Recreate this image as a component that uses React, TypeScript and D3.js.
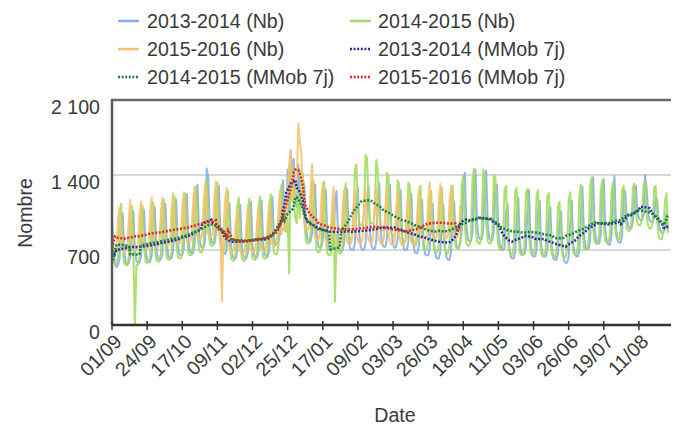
import React from "react";
import * as d3 from "d3";

// Tick labels on the date axis (every 23 days from 01/09)
const tickLabels = ["01/09","24/09","17/10","09/11","02/12","25/12","17/01","09/02","03/03","26/03","18/04","11/05","03/06","26/06","19/07","11/08"];
const tickDays = [0,23,46,69,92,115,138,161,184,207,230,253,276,299,322,345];
const yTicks = [0, 700, 1400, 2100];
const yTickLabels = ["0", "700", "1 400", "2 100"];

// Daily counts, index 0 = 01/09
const nb2013 = [
1000,700,560,540,560,620,920, 1040,700,580,560,580,640,950, 1060,690,600,580,580,640,950, 1070,700,610,590,590,650,960,
1100,720,620,610,610,670,990, 1130,740,640,620,620,690,1010, 1170,770,660,650,650,710,1050, 1220,800,690,670,670,740,1090,
1310,860,740,720,720,790,1460, 1380,900,780,760,760,840,1240, 1300,850,700,680,660,700,1000, 1130,740,640,620,620,690,1010,
1120,740,650,620,620,680,1020, 1150,750,650,630,630,700,1030, 1160,760,660,640,640,700,1040, 1200,820,740,760,780,850,1200,
1350,950,1000,1450,1050,1630,1400, 1550,1150,1100,1500,1150,1100,1350, 1300,900,800,780,780,850,1200, 1310,860,740,720,720,790,1170,
1260,830,710,700,700,770,1130, 1250,830,700,690,700,770,1140, 1270,830,710,700,700,760,1120, 1280,840,720,700,700,770,1140,
1290,850,730,710,710,780,1160, 1320,860,750,730,730,800,1180, 1310,870,750,720,730,800,1190, 1260,830,710,700,700,770,1130,
1220,800,690,670,670,740,1090, 1170,770,660,650,650,710,1050, 1130,740,640,620,620,690,1010, 1120,730,630,610,610,680,1000,
1150,800,720,720,760,880,1300, 1420,930,800,780,780,860,1270, 1450,950,820,800,800,880,1300, 1440,940,810,790,790,870,1290,
1310,860,740,720,700,720,1050, 1130,740,640,620,620,690,1010, 1190,780,670,660,660,720,1070, 1260,780,650,640,640,700,1060,
1160,760,660,640,640,700,1040, 1100,720,620,610,610,670,990, 1060,690,600,580,580,640,950, 1160,760,660,640,640,700,1040,
1290,850,730,710,710,780,1160, 1380,900,780,760,760,840,1240, 1360,890,770,750,750,830,1220, 1390,910,790,770,770,840,1250,
1250,1000,920,900,900,960,1200, 1300,1050,1000,980,980,1020,1400, 1280,1050,980,960,960,1000,1200, 1150,950,880,860,860,900,1050,
880
];

const nb2014 = [
710,590,570,570,640,1050,1130, 700,580,560,560,630,1040,1110, 700,0,560,560,630,1040,1110, 720,590,580,580,650,1060,1140,
740,610,590,590,660,1090,1170, 760,620,610,610,680,1120,1200, 780,640,620,620,700,1150,1230, 820,670,650,650,730,1200,1290,
860,700,680,680,770,1260,1350, 900,760,740,740,820,1250,1330, 880,740,720,700,740,1100,1250, 750,620,600,600,670,1110,1190,
750,620,600,600,670,1100,1180, 760,620,610,610,680,1120,1200, 770,630,620,620,690,1130,1220, 830,680,660,660,740,1220,1310,
1050,900,870,1000,480,1450,1500, 1150,1000,950,1290,1000,1450,1400, 950,780,760,760,850,1300,1350, 850,690,680,680,760,1250,1340,
820,670,650,650,730,1200,220, 840,690,670,670,750,1230,1320, 950,800,800,820,920,1450,1500, 1100,950,930,930,1050,1590,1560,
1100,950,950,950,1050,1540,1450, 1050,900,880,880,980,1420,1380, 1000,850,830,830,920,1350,1320, 950,800,780,780,870,1330,1300,
900,760,740,740,820,1250,1300, 860,720,700,700,780,1200,1250, 840,700,680,680,760,1200,1280, 850,690,670,670,750,1230,1300,
880,730,710,710,790,1300,1400, 920,760,740,740,820,1360,1460, 950,780,760,760,850,1450,1400, 950,780,760,760,850,1400,1380,
900,740,700,700,780,1260,1300, 850,690,660,650,740,1250,1280, 840,680,650,650,730,1230,1270, 840,680,660,660,740,1220,1260,
820,670,640,640,720,1200,1230, 800,660,630,630,710,1100,1150, 790,650,630,630,710,1160,1240, 830,680,660,660,740,1220,1310,
870,720,700,700,780,1290,1380, 900,780,760,760,840,1250,1350, 900,790,770,770,840,1230,1330, 950,830,800,800,880,1260,1300,
1000,900,880,880,950,1280,1320, 1050,950,930,930,1000,1300,1330, 1030,930,900,900,980,1280,1300, 950,820,800,800,880,1150,1230,
860
];

const nb2015 = [
730,700,690,740,1000,1100,760, 700,680,690,720,980,1170,750, 720,700,690,750,1010,1150,770, 740,720,700,760,1050,1190,790,
760,730,720,780,1060,1190,800, 770,750,740,790,1080,1230,820, 790,760,760,800,1100,1240,840, 800,780,770,820,1120,1290,860,
830,800,800,850,1150,1320,890, 850,820,830,870,1180,1340,900, 880,850,220,880,1150,1280,820, 700,680,680,710,950,1090,730,
690,670,670,700,940,1080,720, 700,680,680,720,960,1100,740, 710,690,690,730,980,1130,760, 760,740,750,800,1080,1250,850,
900,880,900,1250,1500,1620,1150, 1200,1250,1350,1880,1700,1600,1150, 950,900,880,920,1250,1500,950, 820,790,790,840,1150,1330,880,
790,760,760,800,1100,1290,850, 780,750,750,790,1080,1260,840, 780,750,750,790,1080,1250,840, 790,760,760,800,1100,1270,850,
800,770,770,820,1110,1290,860, 790,760,760,810,1100,1270,850, 780,750,750,790,1070,1240,840, 770,740,740,780,1050,1220,830,
780,750,750,790,1080,1260,840, 820,790,790,840,1150,1330,870, 840,810,810,860,1150,1320,890, 840,810,810,850,1140,1300,880,
840,810,820,860,1120
];

const legendLabels = ["2013-2014 (Nb)", "2014-2015 (Nb)", "2015-2016 (Nb)", "2013-2014 (MMob 7j)", "2014-2015 (MMob 7j)", "2015-2016 (MMob 7j)"];
const seriesColors = ["#86aee6", "#a4dc5c", "#f8c26c", "#2c2c9c", "#1f7f3c", "#e0281e"];

// 7-day centred moving average (MMob 7j)
function movingAverage(values: number[]): number[] {
  return values.map((_, i) => {
    const w = values.slice(Math.max(0, i - 3), Math.min(values.length, i + 4));
    return d3.mean(w) as number;
  });
}

export default function App() {
  const W = 680, H = 428;
  const left = 112, right = 671, top = 100, bottom = 325;
  const x = d3.scaleLinear().domain([0, 366]).range([left, right]);
  const y = d3.scaleLinear().domain([0, 2100]).range([bottom, top]);
  const line = d3.line<number>().x((_, i) => x(i)).y((v) => y(v));

  const raw = [nb2013, nb2014, nb2015];
  const ma = raw.map(movingAverage);
  const font = "'Liberation Sans', Arial, sans-serif";
  const textColor = "#3a3a3a";
  const fs = 19.6;

  const legendPos = [
    [118, 21], [350, 21],
    [118, 49], [350, 49],
    [118, 77], [350, 77],
  ];

  return (
    <svg width={W} height={H} style={{ position: "absolute", left: 0, top: 0, background: "#fff" }} fontFamily={font}>
      {/* grid lines */}
      {yTicks.filter((t) => t > 0 && t < 2100).map((t) => (
        <line key={t} x1={left} x2={right} y1={y(t)} y2={y(t)} stroke="#c8ccd2" strokeWidth={1.5} />
      ))}
      {/* raw series */}
      {raw.map((s, k) => (
        <path key={"r" + k} d={line(s) || ""} fill="none" stroke={seriesColors[k]} strokeWidth={2} strokeOpacity={0.9} strokeLinejoin="round" />
      ))}
      {/* moving averages */}
      {ma.map((s, k) => (
        <path key={"m" + k} d={line(s) || ""} fill="none" stroke={seriesColors[3 + k]} strokeWidth={2.5} strokeDasharray="2 1.6" />
      ))}
      {/* frame */}
      <line x1={left} x2={right} y1={top} y2={top} stroke="#6a6a6a" strokeWidth={2.5} />
      <line x1={left} x2={left} y1={top - 1} y2={bottom} stroke="#5a5a5a" strokeWidth={2.5} />
      <line x1={left} x2={right} y1={bottom} y2={bottom} stroke="#333" strokeWidth={2.5} />
      {tickDays.map((d) => (
        <line key={"t" + d} x1={x(d)} x2={x(d)} y1={bottom - 4} y2={bottom + 5} stroke="#333" strokeWidth={1.5} />
      ))}
      {/* y tick labels */}
      {yTicks.map((t, i) => (
        <text key={"y" + t} x={100} y={y(t) + 14} textAnchor="end" fontSize={fs} fill={textColor}>{yTickLabels[i]}</text>
      ))}
      {/* x tick labels */}
      {tickDays.map((d, i) => (
        <text key={"xl" + d} transform={`translate(${x(d) + 6},${338}) rotate(-45)`} textAnchor="end" dy="0.35em" fontSize={fs} fill={textColor}>{tickLabels[i]}</text>
      ))}
      {/* axis titles */}
      <text transform="translate(25,213) rotate(-90)" textAnchor="middle" dy="0.35em" fontSize={fs} fill={textColor}>Nombre</text>
      <text x={395} y={422} textAnchor="middle" fontSize={fs} fill={textColor}>Date</text>
      {/* legend */}
      {legendLabels.map((lab, i) => (
        <g key={"lg" + i}>
          <line x1={legendPos[i][0]} x2={legendPos[i][0] + 21} y1={legendPos[i][1]} y2={legendPos[i][1]} stroke={seriesColors[i]} strokeWidth={2.5} strokeDasharray={i >= 3 ? "2 1.6" : undefined} />
          <text x={legendPos[i][0] + (i % 2 === 0 ? 29 : 28)} y={legendPos[i][1]} dy="0.35em" fontSize={fs} fill={textColor}>{lab}</text>
        </g>
      ))}
    </svg>
  );
}
